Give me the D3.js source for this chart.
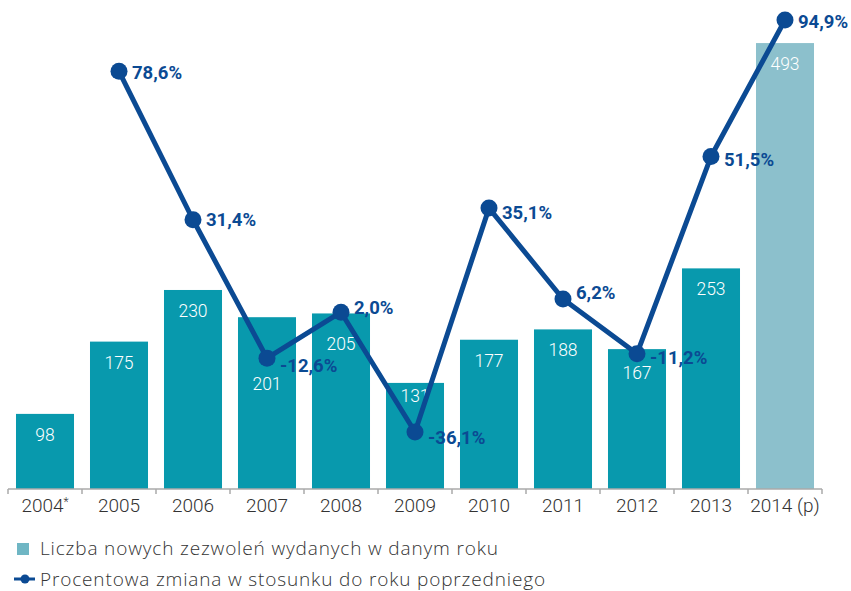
<!DOCTYPE html>
<html>
<head>
<meta charset="utf-8">
<script src="https://cdn.jsdelivr.net/npm/d3@7"></script>
<style>
  body { margin: 0; background: #fff; }
  svg text { font-family: Roboto, "Liberation Sans", sans-serif; }
</style>
</head>
<body>
<div id="chart"></div>
<script>
// chart data
var years = ["2004*", "2005", "2006", "2007", "2008", "2009", "2010", "2011", "2012", "2013", "2014 (p)"];
var permits = [98, 175, 230, 201, 205, 131, 177, 188, 167, 253, 493];
var change = [null, 78.6, 31.4, -12.6, 2.0, -36.1, 35.1, 6.2, -11.2, 51.5, 94.9];
var legendLabels = ["Liczba nowych zezwoleń wydanych w danym roku", "Procentowa zmiana w stosunku do roku poprzedniego"];

// small label nudges (layout only)
var barLabelDy = [0, 0, 0, 46, 10, -8, 0, 0, 3, 0, 0];
var pctLabelDy = [0, 1, 0, 7, -5, 5, 4, -7, 4, 3, 1];

var width = 851, height = 591;
var barColor = "#0899ad", forecastColor = "#8cc0cc", lineColor = "#0b4a93";

var svg = d3.select("#chart").append("svg")
    .attr("width", width)
    .attr("height", height);

var x = d3.scaleBand()
    .domain(years)
    .range([8, 822])
    .paddingInner(0.216)
    .paddingOuter(0.108);

// bar scale, axis sits at 18 (bars are cut at the axis)
var baseVal = 18;
var y = d3.scaleLinear().domain([baseVal, 500]).range([489, 36.5]);
// percent scale
var yp = d3.scaleLinear().domain([-40, 100]).range([444.3, 4]);

var pl = d3.formatLocale({decimal: ",", thousands: " ", grouping: [3], currency: ["", " zł"], minus: "-"});
var fmt = pl.format(".1f");

//bars
svg.selectAll(".bar")
    .data(permits)
    .enter().append("rect")
    .attr("class", "bar")
    .attr("x", function(d, i) { return x(years[i]); })
    .attr("y", function(d) { return y(d); })
    .attr("width", x.bandwidth())
    .attr("height", function(d) { return y(baseVal) - y(d); })
    .attr("fill", function(d, i) { return i == years.length - 1 ? forecastColor : barColor; });

svg.selectAll(".barLabel")
    .data(permits)
    .enter().append("text")
    .attr("class", "barLabel")
    .attr("x", function(d, i) { return x(years[i]) + x.bandwidth() / 2; })
    .attr("y", function(d, i) { return y(d) + 27 + barLabelDy[i]; })
    .attr("text-anchor", "middle")
    .attr("fill", "#fff")
    .style("font-size", "17.5px")
    .style("font-weight", 300)
    .text(function(d) { return d; });

// axis
var axisY = y(baseVal);
svg.append("line")
    .attr("x1", x.range()[0]).attr("x2", x.range()[1])
    .attr("y1", axisY).attr("y2", axisY)
    .attr("stroke", "#aaa").attr("stroke-width", 1.5);

var bounds = years.map(function(d) { return x(d) - x.step() * x.paddingInner() / 2; });
bounds.push(x.range()[1]);
svg.selectAll(".tick")
    .data(bounds)
    .enter().append("line")
    .attr("class", "tick")
    .attr("x1", function(d) { return d; }).attr("x2", function(d) { return d; })
    .attr("y1", axisY).attr("y2", axisY + 5)
    .attr("stroke", "#aaa").attr("stroke-width", 1.5);

var xl = svg.selectAll(".xlabel")
    .data(years)
    .enter().append("text")
    .attr("class", "xlabel")
    .attr("x", function(d) { return x(d) + x.bandwidth() / 2; })
    .attr("y", axisY + 23)
    .attr("text-anchor", "middle")
    .attr("fill", "#333")
    .style("font-size", "19px")
    .style("font-weight", 300);
xl.each(function(d) {
    var t = d3.select(this);
    if (d.slice(-1) == "*") {
        t.append("tspan").text(d.slice(0, -1));
        t.append("tspan").attr("dy", -6).style("font-size", "12px").text("*");
    } else {
        t.text(d);
    }
});

// line
var pts = change.map(function(d, i) { return {v: d, i: i}; }).filter(function(d) { return d.v !== null; });
var cx = function(d) { return x(years[d.i]) + x.bandwidth() / 2; };

svg.append("path")
    .datum(pts)
    .attr("fill", "none")
    .attr("stroke", lineColor)
    .attr("stroke-width", 5)
    .attr("stroke-linejoin", "round")
    .attr("d", d3.line().x(cx).y(function(d) { return yp(d.v); }));

svg.selectAll(".dot")
    .data(pts)
    .enter().append("circle")
    .attr("class", "dot")
    .attr("cx", cx)
    .attr("cy", function(d) { return yp(d.v); })
    .attr("r", 8.5)
    .attr("fill", lineColor);

svg.selectAll(".pct")
    .data(pts)
    .enter().append("text")
    .attr("class", "pct")
    .attr("x", function(d) { return cx(d) + 13; })
    .attr("y", function(d) { return yp(d.v) + 6.5 + pctLabelDy[d.i]; })
    .attr("fill", lineColor)
    .style("font-size", "18.5px")
    .style("font-weight", 700)
    .text(function(d) { return fmt(d.v) + "%"; });

// legend
var lg = svg.append("g");
lg.append("rect")
    .attr("x", 17).attr("y", 543)
    .attr("width", 12).attr("height", 12)
    .attr("fill", "#6fb6c4");
lg.append("line")
    .attr("x1", 14).attr("x2", 35)
    .attr("y1", 579).attr("y2", 579)
    .attr("stroke", lineColor).attr("stroke-width", 3);
lg.append("circle")
    .attr("cx", 25).attr("cy", 579).attr("r", 4.5)
    .attr("fill", lineColor);
lg.selectAll(".legText")
    .data(legendLabels)
    .enter().append("text")
    .attr("class", "legText")
    .attr("x", 40)
    .attr("y", function(d, i) { return 555 + i * 31; })
    .attr("fill", "#333")
    .style("font-family", "'Open Sans', sans-serif")
    .style("font-size", "19px")
    .style("letter-spacing", "0.85px")
    .style("font-weight", 300)
    .text(function(d) { return d; });
</script>
</body>
</html>
